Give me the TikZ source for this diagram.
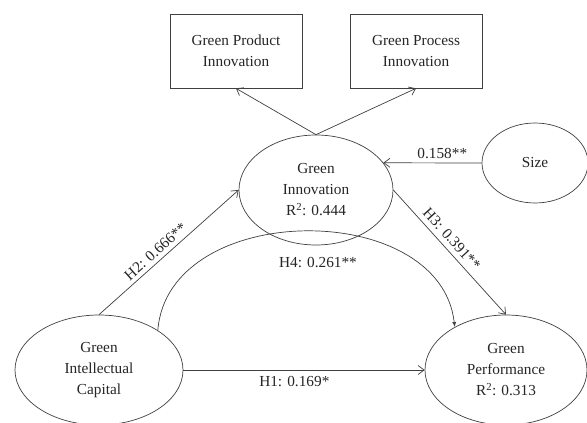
\documentclass[tikz,border=0pt]{standalone}
\usepackage{fontspec}
\setmainfont{Liberation Serif}
\usetikzlibrary{shapes.geometric,arrows.meta}
\begin{document}
\begin{tikzpicture}[x=1pt,y=-1pt,
  every node/.style={font=\fontsize{15.3}{21}\selectfont, text=black!85},
  ell/.style={draw=black!75, line width=0.7pt, ellipse, inner sep=0pt, align=center},
  box/.style={draw=black!75, line width=0.7pt, rectangle, inner sep=0pt, align=center, minimum width=132pt, minimum height=74pt},
  conn/.style={draw=black!75, line width=0.7pt, -{Straight Barb[length=6pt,width=9pt]}},
  lbl/.style={inner sep=1pt}
]
\useasboundingbox (0,0) rectangle (587,423);
\fill[white] (0,0) rectangle (587,423);

\node[box] (gpi) at (236,51) {Green Product\\Innovation};
\node[box] (gpri) at (416,51) {Green Process\\Innovation};
\node[ell, minimum width=154pt, minimum height=110pt] (gi) at (316,190) {Green\\Innovation\\R\textsuperscript{2}: 0.444};
\node[ell, minimum width=106pt, minimum height=80pt] (size) at (535,163) {Size};
\node[ell, minimum width=168pt, minimum height=110pt] (gic) at (99,370) {Green\\Intellectual\\Capital};
\node[ell, minimum width=162pt, minimum height=110pt] (gp) at (506,370) {Green\\Performance\\R\textsuperscript{2}: 0.313};

\draw[conn] (gi.north) -- (gpi.south);
\draw[conn] (gi.north) -- (gpri.south);
\draw[conn] (size.west) -- node[lbl, pos=0.4, above=3pt] (l158) {0.158**} (gi.22);
\draw[conn] (gic.north) -- node[lbl, pos=0.45, sloped, above=3pt] (lh2) {H2: 0.666**} (gi.west);
\draw[conn] (gi.east) -- node[lbl, pos=0.45, sloped, above=4pt] (lh3) {H3: 0.391**} (gp.north);
\draw[conn] (gic.east) -- node[lbl, pos=0.46, below=5pt] (lh1) {H1: 0.169*} (gp.west);
\draw[draw=black!75, line width=0.7pt, -{Latex[length=5pt,width=4pt]}] (gic.34) .. controls (168,200) and (440,198) .. (gp.140);
\node[lbl] (lh4) at (318,263) {H4: 0.261**};
\end{tikzpicture}
\end{document}
